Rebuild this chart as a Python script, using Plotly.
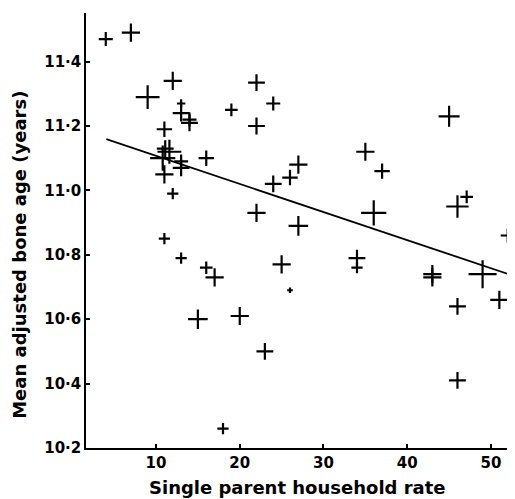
import plotly.graph_objects as go

# Data
x_vals = [4, 7, 9, 12, 13, 13, 14, 14, 11, 19, 22, 24, 22,
          10.8, 11.6, 11.1, 13, 13, 11, 16, 12, 24, 26, 22, 11,
          45, 35, 27, 37, 36, 46, 47.1, 27, 52,
          13, 16, 17, 25, 26, 15, 20, 23, 18,
          34, 34, 43, 43, 49, 51, 46, 46]
y_vals = [11.47, 11.49, 11.29, 11.34, 11.27, 11.24, 11.22, 11.21, 11.19, 11.25, 11.335, 11.27, 11.20,
          11.10, 11.12, 11.13, 11.09, 11.07, 11.05, 11.10, 10.99, 11.02, 11.04, 10.93, 10.85,
          11.23, 11.12, 11.08, 11.06, 10.93, 10.95, 10.98, 10.89, 10.86,
          10.79, 10.76, 10.73, 10.77, 10.69, 10.60, 10.61, 10.50, 10.26,
          10.79, 10.76, 10.74, 10.73, 10.74, 10.66, 10.64, 10.41]
weights = [10, 13, 17, 13, 6, 12, 10, 12, 11, 9, 12, 10, 12,
           18, 17, 12, 10, 12, 13, 11, 8, 12, 11, 13, 8,
           15, 13, 13, 11, 18, 16, 9, 14, 10,
           8, 9, 13, 13, 4, 14, 13, 12, 8,
           12, 8, 13, 13, 20, 13, 12, 12]

fit_x = [4.07, 52.1]
fit_y = [11.159, 10.740]

y_tickvals = [10.2, 10.4, 10.6, 10.8, 11.0, 11.2, 11.4]
y_ticktext = ["10·2", "10·4", "10·6", "10·8", "11·0", "11·2", "11·4"]
x_tickvals = [10, 20, 30, 40, 50]
x_ticktext = ["10", "20", "30", "40", "50"]

x_title = "Single parent household rate"
y_title = "Mean adjusted bone age (years)"

font_family = "DejaVu Sans"

fig = go.Figure()
fig.add_trace(go.Scatter(
    x=fit_x, y=fit_y, mode="lines",
    line=dict(color="black", width=1.8),
    showlegend=False, hoverinfo="skip"))
fig.add_trace(go.Scatter(
    x=x_vals, y=y_vals, mode="markers",
    marker=dict(symbol="cross-thin", size=weights, color="black", opacity=1,
                line=dict(color="black", width=2.2)),
    showlegend=False, cliponaxis=False))

# page body has an 8px margin, so the figure is 8px smaller and shifted
fig.update_layout(
    width=507, height=491,
    margin=dict(l=78, r=0, t=5, b=51),
    plot_bgcolor="white", paper_bgcolor="white",
    font=dict(family=font_family, color="black"),
    xaxis=dict(
        range=[1.64, 52.87], automargin=False,
        tickvals=x_tickvals, ticktext=x_ticktext,
        ticks="inside", ticklen=4, tickwidth=1.5, tickcolor="black",
        showline=True, linecolor="black", linewidth=1.5,
        showgrid=False, zeroline=False,
        tickfont=dict(size=15, family=font_family, weight="bold"),
    ),
    yaxis=dict(
        range=[10.2, 11.551], automargin=False,
        tickvals=y_tickvals, ticktext=y_ticktext,
        ticks="inside", ticklen=4, tickwidth=1.5, tickcolor="black",
        showline=True, linecolor="black", linewidth=1.5,
        showgrid=False, zeroline=False,
        tickfont=dict(size=15, family=font_family, weight="bold"),
    ),
    annotations=[
        dict(text=x_title, xref="paper", yref="paper", x=0.492, y=-0.09,
             xanchor="center", yanchor="middle", showarrow=False,
             font=dict(size=18, family=font_family, weight="bold")),
        dict(text=y_title, xref="paper", yref="paper", x=-0.154, y=0.444,
             xanchor="center", yanchor="middle", showarrow=False, textangle=-90,
             font=dict(size=18, family=font_family, weight="bold")),
    ],
)

fig.write_html("out.html")
